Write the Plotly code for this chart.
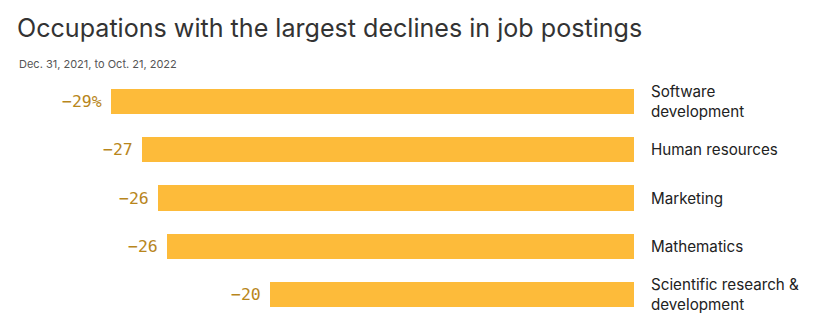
import plotly.graph_objects as go

categories = ["Software<br>development", "Human resources", "Marketing", "Mathematics",
              "Scientific research &<br>development"]
values = [-29.0, -27.3, -26.4, -25.9, -20.2]
value_labels = ["−29%", "−27", "−26", "−26", "−20"]

W, H = 819, 329
ml, mr, mt, mb = 111, 185, 77, 10
pw = W - ml - mr
ph = H - mt - mb

bar_color = "#FDBB3A"
val_color = "#B8861C"

ypos = list(range(len(categories)))

fig = go.Figure()
fig.add_trace(go.Bar(
    x=values, y=ypos, orientation="h",
    marker=dict(color=bar_color, line=dict(width=0)),
    width=0.52, hoverinfo="skip",
))

annotations = []
for yv, v, lab, cat in zip(ypos, values, value_labels, categories):
    annotations.append(dict(
        x=v, y=yv, xref="x", yref="y", text=lab, showarrow=False,
        xanchor="right", yanchor="middle", xshift=-7,
        font=dict(family="DejaVu Sans Mono", size=16.5, color=val_color),
    ))
    annotations.append(dict(
        x=1, y=yv, xref="paper", yref="y", text=cat, showarrow=False,
        xanchor="left", yanchor="middle", xshift=15, align="left",
        font=dict(family="Inter", size=15.2, color="#222222"),
    ))

annotations.append(dict(
    x=(17 - ml) / pw, y=1 + (mt - 64) / ph, xref="paper", yref="paper",
    text="Dec. 31, 2021, to Oct. 21, 2022", showarrow=False,
    xanchor="left", yanchor="middle",
    font=dict(family="Inter", size=11, color="#555555"),
))

fig.update_layout(
    width=W, height=H,
    margin=dict(l=ml, r=mr, t=mt, b=mb),
    paper_bgcolor="white", plot_bgcolor="white",
    showlegend=False,
    title=dict(
        text="Occupations with the largest declines in job postings",
        x=17 / W, xref="container", xanchor="left",
        y=1 - 28 / H, yref="container", yanchor="middle",
        font=dict(family="Inter", size=25.1, color="#333333"),
    ),
    xaxis=dict(range=[min(values), 0], visible=False, fixedrange=True),
    yaxis=dict(range=[len(categories) - 0.5, -0.5], visible=False, fixedrange=True),
    annotations=annotations,
    bargap=0,
)

fig.write_html("out.html", config={"displayModeBar": False})
